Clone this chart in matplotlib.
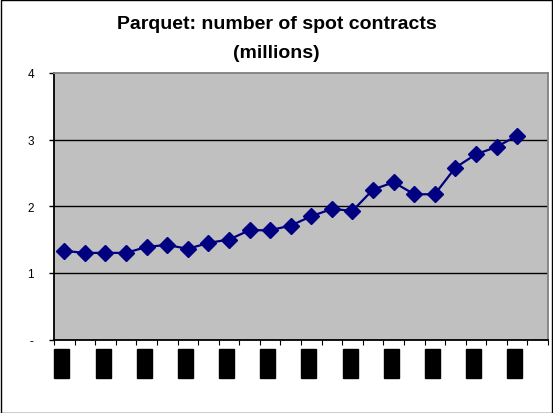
import matplotlib
matplotlib.use("Agg")
import matplotlib.pyplot as plt
from matplotlib.patches import Rectangle
import matplotlib.transforms as mtransforms

plt.rcParams['font.family'] = ['Liberation Sans', 'DejaVu Sans']

# spot contracts, millions (23 periods, one empty slot at the end)
values = [1.33, 1.30, 1.30, 1.30, 1.39, 1.42, 1.36, 1.45, 1.50, 1.64, 1.64, 1.71,
          1.85, 1.96, 1.93, 2.25, 2.36, 2.18, 2.18, 2.58, 2.78, 2.89, 3.06]
n_slots = 24
y_ticks = [0, 1, 2, 3, 4]
y_labels = ['-', '1', '2', '3', '4']

W, H = 553, 414
fig = plt.figure(figsize=(W / 100, H / 100), dpi=100)
ax = fig.add_axes([54 / W, 1 - 340.5 / H, (548 - 54) / W, (340.5 - 74) / H])
ax.set_facecolor('#C0C0C0')

x = [i + 0.5 for i in range(len(values))]
ax.plot(x, values, color='#000080', lw=1.6, marker='D', markersize=8.5,
        markerfacecolor='#000080', markeredgecolor='#000080', zorder=3)

ax.set_xlim(0, n_slots)
ax.set_ylim(0, 4)
ax.set_yticks(y_ticks)
ax.set_yticklabels(y_labels, fontsize=8.5)
ax.set_xticks(range(n_slots + 1))
ax.set_xticklabels([])
ax.tick_params(axis='y', direction='out', length=3.5, width=1, pad=11)
ax.tick_params(axis='x', direction='out', length=3.5, width=0.8)

for v in y_ticks[1:-1]:
    ax.axhline(v, color='black', lw=1, zorder=1)

ax.spines['left'].set_color('black')
ax.spines['bottom'].set_color('black')
ax.spines['top'].set_color('#808080')
ax.spines['right'].set_color('#808080')
for s in ax.spines.values():
    s.set_linewidth(1.3)

# redacted category labels (black boxes under every other slot)
trans = mtransforms.blended_transform_factory(ax.transData, ax.transAxes)
for i in range(0, n_slots, 2):
    ax.add_patch(Rectangle((i + 0.02, -0.1445), 0.73, 0.109, transform=trans,
                           color='black', clip_on=False))

fig.text(0.5, 1 - 29 / H, 'Parquet: number of spot contracts', ha='center',
         va='baseline', fontsize=14, fontweight='bold')
fig.text(0.5, 1 - 58 / H, '(millions)', ha='center', va='baseline',
         fontsize=14, fontweight='bold')

fig.patches.append(Rectangle((0.001, 0.001), 0.997, 0.997, transform=fig.transFigure,
                             fill=False, edgecolor='black', lw=1))

fig.savefig('out.png', dpi=100)
